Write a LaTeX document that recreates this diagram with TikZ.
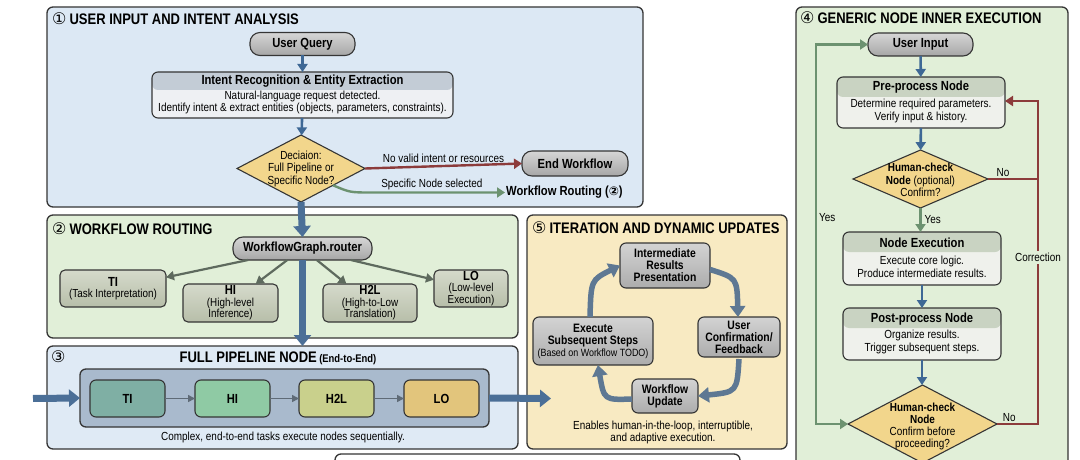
\documentclass[tikz,border=0pt]{standalone}
\usepackage{fontspec}
\setmainfont{Liberation Sans}[FakeStretch=0.85]
\newfontfamily\symf{DejaVu Sans}
\usetikzlibrary{arrows.meta,shapes.geometric,calc}
\definecolor{pBlue}{HTML}{DCE8F4}
\definecolor{pBlueB}{HTML}{DFEAF5}
\definecolor{pGreen}{HTML}{E1EFD8}
\definecolor{pYellow}{HTML}{F8EAC2}
\definecolor{edge}{HTML}{353535}
\definecolor{pillTop}{HTML}{D6D6D6}
\definecolor{pillBot}{HTML}{A6A6A6}
\definecolor{subTop}{HTML}{D5DACB}
\definecolor{subBot}{HTML}{B7BEA9}
\definecolor{cycTop}{HTML}{D3D3D3}
\definecolor{cycBot}{HTML}{ACACAC}
\definecolor{gold}{HTML}{F2D68C}
\definecolor{aBlue}{HTML}{3E6895}
\definecolor{tBlue}{HTML}{4B6F97}
\definecolor{cArr}{HTML}{5E7893}
\definecolor{aRed}{HTML}{8C3B3B}
\definecolor{aGreen}{HTML}{6C9270}
\definecolor{aGray}{HTML}{5E6A5E}
\definecolor{pGray}{HTML}{5F6B77}
\definecolor{iHead}{HTML}{C3CCD6}
\definecolor{iBody}{HTML}{EEF0F3}
\definecolor{gHead}{HTML}{C9D3C2}
\definecolor{gBody}{HTML}{EFF1EC}
\definecolor{pipeIn}{HTML}{A9BACD}
\definecolor{cTI}{HTML}{7FAFA4}
\definecolor{cHI}{HTML}{8FCAA4}
\definecolor{cHL}{HTML}{C9D08C}
\definecolor{cLO}{HTML}{E2C57C}
\newcommand\ftTitle{\fontsize{15.3}{17}\selectfont\bfseries}
\newcommand\ftNode{\fontsize{13.2}{14.5}\selectfont\bfseries}
\newcommand\ftCyc{\fontsize{12.2}{12}\selectfont\bfseries}
\newcommand\ftBody{\fontsize{11.7}{12.5}\selectfont}
\newcommand\ftSub{\fontsize{11.6}{11.5}\selectfont}
\newcommand\ftSmall{\fontsize{10.5}{11}\selectfont}
\newcommand\circd[1]{{\symf\fontsize{16}{16}\selectfont #1}}
\begin{document}
\begin{tikzpicture}[x=1pt,y=-1pt,
  panel/.style={draw=edge, line width=1.3pt, rounded corners=6pt, inner sep=0pt, outer sep=0pt},
  pill/.style={draw=edge, line width=1.1pt, rounded corners=10pt, top color=pillTop, bottom color=pillBot, font=\ftNode, inner sep=0pt, outer sep=0pt},
  hdrbox/.style={draw=edge, line width=1.1pt, rounded corners=6pt, inner sep=0pt, outer sep=0pt, fill=#1},
  hdr/.style 2 args={path picture={\fill[#1] (path picture bounding box.north west) rectangle ([yshift=-#2]path picture bounding box.north east);}},
  sub/.style={draw=edge, line width=1.1pt, rounded corners=5pt, top color=subTop, bottom color=subBot, align=center, inner sep=0pt, outer sep=0pt, font=\ftSub},
  cyc/.style={draw=edge, line width=1.1pt, rounded corners=6pt, top color=cycTop, bottom color=cycBot, align=center, inner sep=0pt, outer sep=0pt, font=\ftCyc},
  pipe/.style={draw=edge, line width=1.1pt, rounded corners=6pt, align=center, inner sep=0pt, outer sep=0pt, font=\ftNode},
  diam/.style={diamond, draw=edge, line width=1.1pt, fill=gold, inner sep=0pt, outer sep=0pt},
  txt/.style={inner sep=1pt, align=center},
  barrow/.style={draw=aBlue, line width=2.6pt, -{Triangle[length=8pt,width=10pt]}},
  tarrow/.style={draw=tBlue, line width=7pt, -{Triangle[length=11pt,width=17pt]}},
  carrow/.style={draw=cArr, line width=5.5pt, -{Triangle[length=11pt,width=15pt]}},
  rtarrow/.style={draw=aGray, line width=2.2pt, -{Triangle[length=8pt,width=9pt]}},
  parrow/.style={draw=pGray, line width=1.6pt, -{Triangle[length=7pt,width=7pt]}},
  rline/.style={draw=aRed, line width=2.4pt},
  gline/.style={draw=aGreen, line width=2.4pt},
  lbl/.style={inner sep=1pt, font=\ftBody}
]
\useasboundingbox (0,0) rectangle (1080,460);
\clip (0,0) rectangle (1080,460);
\fill[white] (0,0) rectangle (1080,460);

% ---------- panels
\node[panel, fill=pBlue, minimum width=596pt, minimum height=200pt] (P1) at (345,107) {};
\node[panel, fill=pGreen, minimum width=471pt, minimum height=123pt] (P2) at (282.5,276.5) {};
\node[panel, fill=pBlueB, minimum width=471pt, minimum height=103pt] (P3) at (282.5,397.5) {};
\node[panel, fill=pYellow, minimum width=260pt, minimum height=234pt] (P5) at (657,332) {};
\node[panel, fill=pGreen, minimum width=272pt, minimum height=473pt] (P4) at (932,243.5) {};
\node[panel, fill=white, minimum width=405pt, minimum height=46pt] (P6) at (537.5,477) {};

% ---------- titles
\node[anchor=west, inner sep=0pt] (T1) at (52,19) {\circd{①}\hspace{3pt}{\ftTitle USER INPUT AND INTENT ANALYSIS}};
\node[anchor=west, inner sep=0pt] (T2) at (52,229) {\circd{②}\hspace{3pt}{\ftTitle WORKFLOW ROUTING}};
\node[anchor=west, inner sep=0pt] (T3n) at (51,357) {\circd{③}};
\node[inner sep=0pt] (T3) at (278,358) {{\ftTitle FULL PIPELINE NODE} {\fontsize{11.1}{12}\selectfont\bfseries (End-to-End)}};
\node[anchor=west, inner sep=0pt] (T5) at (532,228) {\circd{⑤}\hspace{3pt}{\ftTitle ITERATION AND DYNAMIC UPDATES}};
\node[anchor=west, inner sep=0pt] (T4) at (800,18) {\circd{④}\hspace{3pt}{\ftTitle GENERIC NODE INNER EXECUTION}};

% ---------- panel 1
\node[pill, minimum width=105pt, minimum height=23pt] (uq) at (302.5,44) {User Query};
\node[hdrbox=iBody, hdr={iHead}{18pt}, minimum width=301pt, minimum height=46pt] (ir) at (302.5,95) {};
\node[txt, font=\ftNode] (irh) at (302.5,81) {Intent Recognition \& Entity Extraction};
\node[txt, font=\ftBody] (irb) at (302.5,102.5) {Natural-language request detected.\\Identify intent \& extract entities (objects, parameters, constraints).};
\node[diam, minimum width=128pt, minimum height=67pt] (dec) at (301,168.5) {};
\node[txt, font=\ftBody] (decT) at (301,168.5) {Deciaion:\\Full Pipeline or\\Specific Node?};
\node[pill, minimum width=106pt, minimum height=25pt] (ew) at (575,163.5) {End Workflow};
\node[anchor=west, inner sep=1pt, font=\ftNode] (wr) at (505,192.5) {Workflow Routing ({\symf\fontsize{12}{12}\selectfont ②})};
\coordinate (gb) at (372,192.5);

\draw[barrow] (uq) -- (ir);
\draw[barrow] (ir) -- (dec);
\draw[rline, -{Triangle[length=8pt,width=10pt]}] (dec.east) -- node[lbl, above=1pt] (l1) {No valid intent or resources} (ew.west);
\draw[gline, -{Triangle[length=8pt,width=10pt]}] (dec.south east) .. controls (350,192.5) .. (gb) -- node[lbl, above=0pt, pos=0.45] (l2) {Specific Node selected} (wr.west);

% ---------- panel 2
\node[pill, minimum width=139pt, minimum height=23pt] (rt) at (302.5,248.5) {WorkflowGraph.router};
\node[sub, minimum width=106pt, minimum height=37pt] (ti) at (113,288.5) {{\ftNode TI}\\(Task Interpretation)};
\node[sub, minimum width=95pt, minimum height=38pt] (hi) at (230.5,303) {{\ftNode HI}\\(High-level\\Inference)};
\node[sub, minimum width=94pt, minimum height=38pt] (hl) at (370,303) {{\ftNode H2L}\\(High-to-Low\\Translation)};
\node[sub, minimum width=74pt, minimum height=37pt] (lo) at (471,288.5) {{\ftNode LO}\\(Low-level\\Execution)};
\draw[rtarrow] (rt) -- (ti);
\draw[rtarrow] (rt) -- (hi);
\draw[rtarrow] (rt) -- (hl);
\draw[rtarrow] (rt) -- (lo);

% ---------- panel 3
\node[panel, fill=pipeIn, minimum width=409pt, minimum height=58pt] (pin) at (284.5,398) {};
\node[pipe, fill=cTI, minimum width=75pt, minimum height=37pt] (pti) at (127.5,398.5) {TI};
\node[pipe, fill=cHI, minimum width=75pt, minimum height=37pt] (phi) at (232.5,398.5) {HI};
\node[pipe, fill=cHL, minimum width=75pt, minimum height=37pt] (phl) at (336.5,398.5) {H2L};
\node[pipe, fill=cLO, minimum width=75pt, minimum height=37pt] (plo) at (441.5,398.5) {LO};
\draw[parrow] (pti) -- (phi);
\draw[parrow] (phi) -- (phl);
\draw[parrow] (phl) -- (plo);
\node[txt, font=\ftBody] (cap3) at (283,437.5) {Complex, end-to-end tasks execute nodes sequentially.};
\coordinate (inL) at (33,398.5);
\coordinate (outR) at (551,398.5);
\draw[tarrow] (inL) -- (pin.west);
\draw[tarrow] (pin.east) -- (outR);

% thick vertical flow
\draw[tarrow] (dec.south) -- (rt.north);
\draw[tarrow] (rt.south) -- (rt.south |- P3.north);

% ---------- panel 5
\node[cyc, minimum width=90pt, minimum height=45pt] (int) at (665,265.5) {Intermediate\\Results\\Presentation};
\node[cyc, minimum width=82pt, minimum height=40pt] (ucf) at (739,337) {User\\Confirmation/\\Feedback};
\node[cyc, minimum width=66pt, minimum height=34pt] (wfu) at (665,396) {Workflow\\Update};
\node[cyc, minimum width=120pt, minimum height=48pt] (exe) at (593,341) {Execute\\Subsequent Steps\\{\ftSmall\mdseries (Based on Workflow TODO)}};
\node[txt, font=\ftBody] (cap5) at (663,432.5) {Enables human-in-the-loop, interruptible,\\and adaptive execution.};
\draw[carrow] ([yshift=-4pt]int.east) .. controls (737,278) .. ([xshift=-1pt]ucf.north);
\draw[carrow] ([yshift=-2pt]ucf.south) .. controls (737,392) .. (wfu.east);
\draw[carrow] ([yshift=-3pt]wfu.west) .. controls (604,400) .. ([xshift=5pt]exe.south);
\draw[carrow] ([xshift=-3pt]exe.north) .. controls (591,280) .. (int.west);

% ---------- panel 4
\node[pill, minimum width=105pt, minimum height=23pt] (ui) at (920.5,44.5) {User Input};
\node[hdrbox=gBody, hdr={gHead}{20pt}, minimum width=168pt, minimum height=51pt] (pre) at (921,102.5) {};
\node[txt, font=\ftNode] (preh) at (921,87.5) {Pre-process Node};
\node[txt, font=\fontsize{11.7}{13.5}\selectfont] (preb) at (921,111) {Determine required parameters.\\Verify input \& history.};
\node[diam, minimum width=135pt, minimum height=58pt] (d1) at (920.5,179) {};
\node[txt, font=\ftBody] (d1t) at (920.5,180) {\textbf{Human-check}\\\textbf{Node} (optional)\\Confirm?};
\node[hdrbox=gBody, hdr={gHead}{20pt}, minimum width=158pt, minimum height=53pt] (nex) at (922,258.5) {};
\node[txt, font=\ftNode] (nexh) at (922,243) {Node Execution};
\node[txt, font=\fontsize{11.7}{13.5}\selectfont] (nexb) at (922,267) {Execute core logic.\\Produce intermediate results.};
\node[hdrbox=gBody, hdr={gHead}{20pt}, minimum width=158pt, minimum height=52pt] (pp) at (922,334) {};
\node[txt, font=\ftNode] (pph) at (922,319) {Post-process Node};
\node[txt, font=\fontsize{11.7}{13.5}\selectfont] (ppb) at (922,342) {Organize results.\\Trigger subsequent steps.};
\node[diam, minimum width=149pt, minimum height=78pt] (d2) at (922.5,424) {};
\node[txt, font=\fontsize{11.7}{12}\selectfont] (d2t) at (922.5,426) {\textbf{Human-check}\\\textbf{Node}\\Confirm before\\proceeding?};

\draw[barrow] (ui) -- (pre);
\draw[barrow] (pre) -- (d1);
\draw[gline, -{Triangle[length=8pt,width=10pt]}] (d1.south) -- node[lbl, right=2pt] (y1) {Yes} (d1.south |- nex.north);
\draw[barrow] (nex) -- (pp);
\draw[barrow] (pp.south) -- (pp.south |- d2.north);

\coordinate (rB) at (1038,424);
\coordinate (rM) at (1038,179);
\coordinate (rT) at (1038,101);
\draw[rline, -{Triangle[length=8pt,width=10pt]}] (d2.east) -- node[lbl, above=0pt, pos=0.3] (n2) {No} (rB) -- node[lbl, pos=0.515, fill=pGreen, inner sep=2pt] (corr) {Correction} (rT) -- (rT -| pre.east);
\draw[rline] (d1.east) -- node[lbl, above=0pt, pos=0.3] (n1) {No} (rM);

\coordinate (gL) at (816,424);
\coordinate (gT) at (816,44.5);
\draw[gline, {Triangle[length=8pt,width=10pt]}-{Triangle[length=8pt,width=10pt]}] (d2.west) -- (gL) -- node[lbl, right=1pt, pos=0.545] (y2) {Yes} (gT) -- (ui.west);
\end{tikzpicture}
\end{document}
